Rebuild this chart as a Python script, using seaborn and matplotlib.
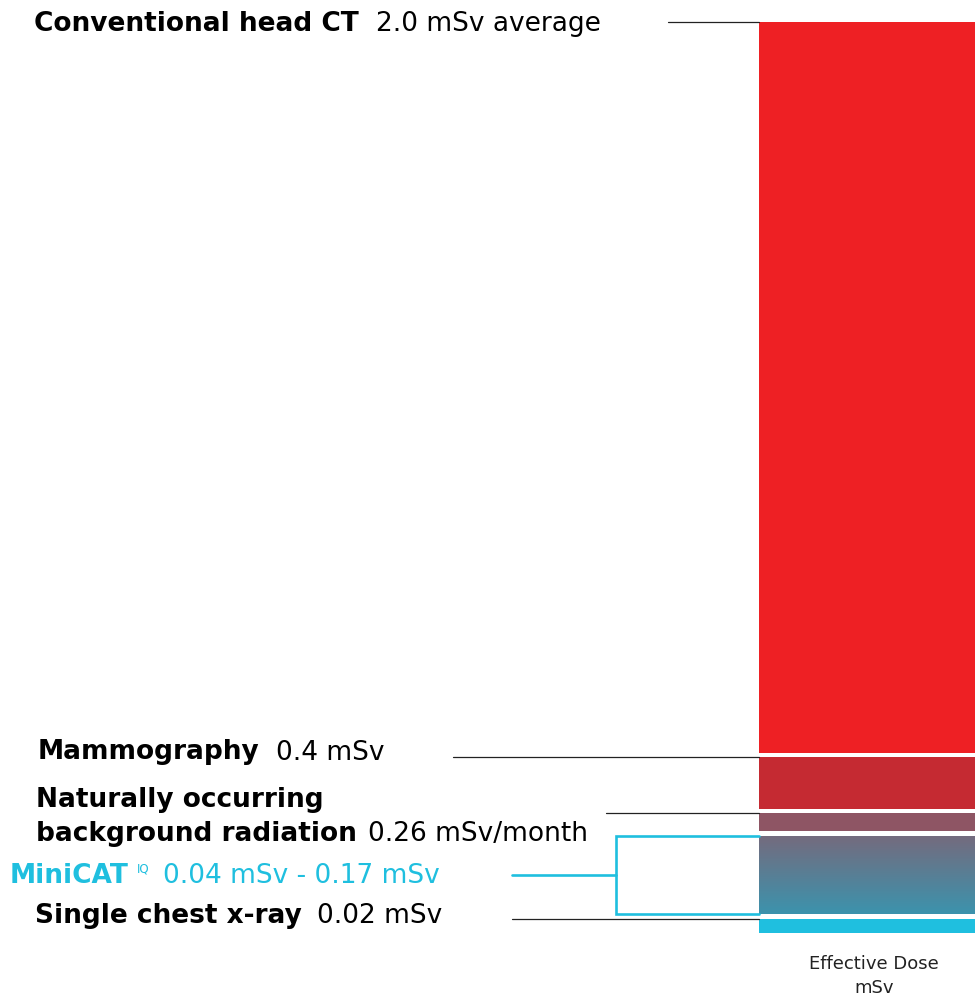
import numpy as np
import matplotlib
matplotlib.use("Agg")
import matplotlib.pyplot as plt
import seaborn as sns
from matplotlib.colors import LinearSegmentedColormap

# stacked dose bar, segment bounds (mSv), bottom -> top
seg_names = ["Single chest x-ray", "MiniCAT IQ", "Background radiation", "Mammography", "Conventional head CT"]
seg_bottom = [0.0, 0.042, 0.224, 0.272, 0.395]
seg_top = [0.030, 0.212, 0.263, 0.385, 2.0]
seg_colors = ["#1fbfdf", None, "#8e5564", "#c52a32", "#ee2024"]
grad_colors = ["#3c93ad", "#746b7e"]  # MiniCAT segment, bottom -> top

# label texts
bold_labels = ["Conventional head CT", "Mammography", "Naturally occurring", "background radiation", "Single chest x-ray"]
value_labels = ["2.0 mSv average", "0.4 mSv", "0.26 mSv/month", "0.02 mSv"]
minicat_label = ["MiniCAT", "IQ", "0.04 mSv - 0.17 mSv"]
axis_label = ["Effective Dose", "mSv"]

sns.set_style("white")
plt.rcParams["font.family"] = ["DejaVu Sans"]

W, H = 975, 1001
fig = plt.figure(figsize=(W / 100, H / 100), dpi=100)
ax = fig.add_axes([0, 0, 1, 1])
# y axis: 0 mSv at pixel row 932.7, 2.0 mSv at row 22
ppu = (932.7 - 22) / 2.0
ax.set_ylim((932.7 - H) / ppu, 932.7 / ppu)
ax.set_xlim(0, W)
ax.axis("off")

bar_x0, bar_x1 = 759, 975
cx, bw = (bar_x0 + bar_x1) / 2, bar_x1 - bar_x0

for b, t, c in zip(seg_bottom, seg_top, seg_colors):
    if c is None:
        cmap = LinearSegmentedColormap.from_list("mc", grad_colors)
        grad = np.linspace(0, 1, 256).reshape(-1, 1)
        ax.imshow(grad, cmap=cmap, origin="lower", aspect="auto",
                  extent=[bar_x0, bar_x1, b, t], zorder=2)
    else:
        ax.bar(cx, t - b, bottom=b, width=bw, color=c, linewidth=0, zorder=2)


def px(x, y):
    return x / W, 1 - y / H


dark = "#222222"
cyan = "#1fbfdf"

# leader lines to segment tops
leaders = [(668, seg_top[4]), (453, seg_top[3]), (606, seg_top[2]), (512, seg_top[0])]
for x0, v in leaders:
    ax.plot([x0, bar_x0], [v, v], color=dark, lw=0.9, zorder=3)

# MiniCAT bracket
bx = 616
mid = (seg_top[1] + seg_bottom[1]) / 2
ax.plot([bar_x0, bx, bx, bar_x0], [seg_top[1], seg_top[1], seg_bottom[1], seg_bottom[1]],
        color=cyan, lw=1.9, zorder=3, solid_joinstyle="miter")
ax.plot([512, bx], [mid, mid], color=cyan, lw=1.9, zorder=3)

# labels: (text, left x, centre y, target width, bold, colour)
items = [
    (bold_labels[0], 34, 24, 324, True, "black"),
    (value_labels[0], 376, 24, 240, False, "black"),
    (bold_labels[1], 38, 752, 219, True, "black"),
    (value_labels[1], 276, 753, 118, False, "black"),
    (bold_labels[2], 36, 800, 284, True, "black"),
    (bold_labels[3], 36, 834, 318, True, "black"),
    (value_labels[2], 368, 834, 233, False, "black"),
    (minicat_label[0], 10, 876, 119, True, cyan),
    (minicat_label[2], 163, 876, 290, False, cyan),
    (bold_labels[4], 35, 916, 262, True, "black"),
    (value_labels[3], 317, 916, 135, False, "black"),
]
fs0 = 16
texts = []
for s, x, y, tw, bold, col in items:
    t = fig.text(*px(x, y), s, fontsize=fs0, fontweight="bold" if bold else "normal",
                 va="center", color=col)
    texts.append((t, tw))
fig.canvas.draw()
r = fig.canvas.get_renderer()
ratios = [tw / t.get_window_extent(r).width for t, tw in texts]
fs = fs0 * float(np.median(ratios))
for t, _ in texts:
    t.set_fontsize(fs)

fig.text(*px(137, 869), minicat_label[1], fontsize=fs * 0.45, va="center", color=cyan)

fig.text(*px(874, 964), axis_label[0], fontsize=13, ha="center", va="center", color=dark)
fig.text(*px(874, 988), axis_label[1], fontsize=13, ha="center", va="center", color=dark)

fig.savefig("out.png", dpi=100)
